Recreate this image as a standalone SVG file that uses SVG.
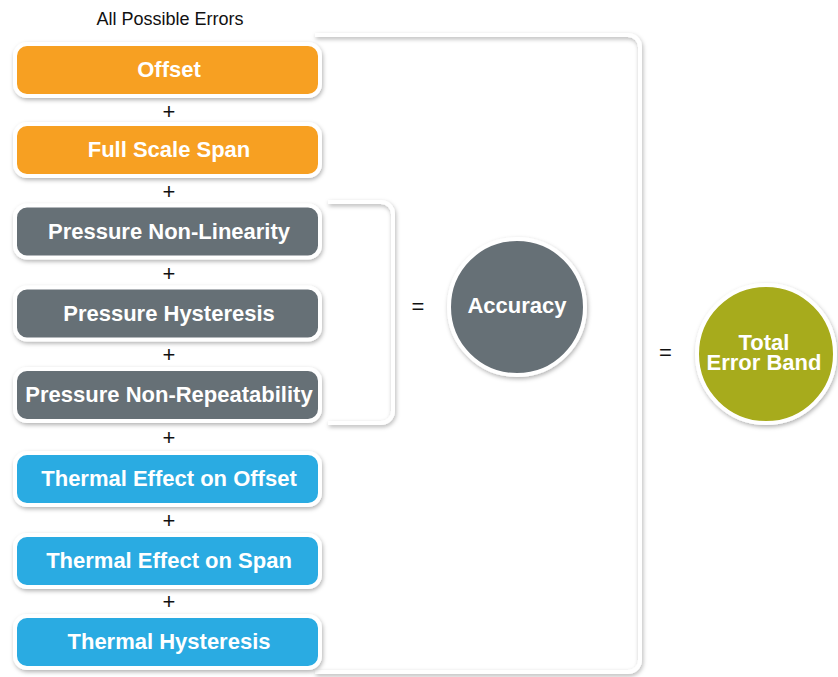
<svg xmlns="http://www.w3.org/2000/svg" width="838" height="677" viewBox="0 0 838 677">
<defs>
<filter id="sh" x="-20%" y="-20%" width="140%" height="150%">
<feDropShadow dx="1" dy="2" stdDeviation="2" flood-color="#000" flood-opacity="0.3"/>
</filter>
<style>
.box{stroke:#fff;stroke-width:4;filter:url(#sh)}
.or{fill:#F7A020}
.gr{fill:#666F76}
.bl{fill:#29ABE2}
.ol{fill:#A7AB1A}
.lbl{font-family:"Liberation Sans",Arial,sans-serif;font-weight:bold;font-size:22px;fill:#fff;text-anchor:middle}
.op{font-family:"Liberation Sans",Arial,sans-serif;font-size:22px;fill:#111;text-anchor:middle}
.br{fill:none;stroke:#fff;stroke-width:4;filter:url(#sh)}
</style>
</defs>
<rect width="838" height="677" fill="#fff"/>
<text x="170" y="25" font-family="'Liberation Sans',Arial,sans-serif" font-size="18" fill="#111" text-anchor="middle">All Possible Errors</text>
<g id="connectors">
<path class="br" d="M315 35H628A12 12 0 0 1 640 47V660A12 12 0 0 1 628 672H315"/>
<path class="br" d="M328 202H381A12 12 0 0 1 393 214V411A12 12 0 0 1 381 423H328"/>
</g>
<g id="n-offset"><rect class="box or" x="15" y="44" width="305" height="52" rx="12"/><text class="lbl" x="169" y="77">Offset</text></g>
<g id="n-fss"><rect class="box or" x="15" y="124" width="305" height="52" rx="12"/><text class="lbl" x="169" y="157">Full Scale Span</text></g>
<g id="n-pnl"><rect class="box gr" x="15" y="205.5" width="305" height="52" rx="12"/><text class="lbl" x="169" y="238.5">Pressure Non-Linearity</text></g>
<g id="n-ph"><rect class="box gr" x="15" y="287.5" width="305" height="52" rx="12"/><text class="lbl" x="169" y="320.5">Pressure Hysteresis</text></g>
<g id="n-pnr"><rect class="box gr" x="15" y="369" width="305" height="52" rx="12"/><text class="lbl" x="169" y="402">Pressure Non-Repeatability</text></g>
<g id="n-teo"><rect class="box bl" x="15" y="453" width="305" height="52" rx="12"/><text class="lbl" x="169" y="486">Thermal Effect on Offset</text></g>
<g id="n-tes"><rect class="box bl" x="15" y="535" width="305" height="52" rx="12"/><text class="lbl" x="169" y="568">Thermal Effect on Span</text></g>
<g id="n-th"><rect class="box bl" x="15" y="616" width="305" height="52" rx="12"/><text class="lbl" x="169" y="649">Thermal Hysteresis</text></g>
<g id="operators">
<text class="op" x="169" y="119">+</text>
<text class="op" x="169" y="199">+</text>
<text class="op" x="169" y="281">+</text>
<text class="op" x="169" y="362">+</text>
<text class="op" x="169" y="445">+</text>
<text class="op" x="169" y="528">+</text>
<text class="op" x="169" y="609">+</text>
<text class="op" x="418" y="314">=</text>
<text class="op" x="665.5" y="360">=</text>
</g>
<g id="n-accuracy"><circle class="box gr" cx="517" cy="307" r="68"/><text class="lbl" x="517" y="313">Accuracy</text></g>
<g id="n-teb"><circle class="box ol" cx="766" cy="354" r="69"/><text class="lbl" x="764" y="350" font-size="21">Total<tspan x="764" dy="20">Error Band</tspan></text></g>
</svg>
